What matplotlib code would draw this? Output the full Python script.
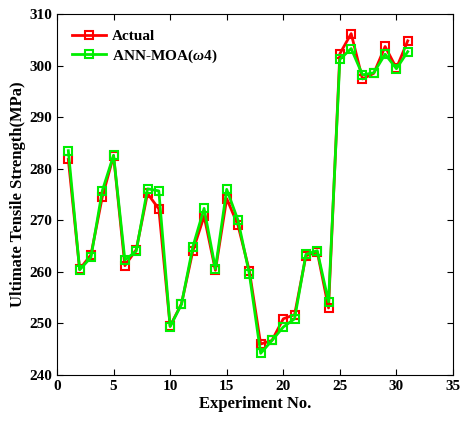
import matplotlib
matplotlib.use("Agg")
import matplotlib.pyplot as plt

experiments = list(range(1, 32))
actual = [281.8, 260.5, 263.3, 274.5, 282.5, 261.2, 264.3, 275.2, 272.2, 249.5,
          253.8, 264.0, 270.8, 260.3, 274.2, 269.0, 260.2, 246.0, 246.7, 250.9,
          251.7, 263.1, 263.9, 253.0, 302.3, 306.2, 297.4, 298.5, 303.7, 299.5, 304.8]
ann_moa = [283.5, 260.4, 262.8, 275.7, 282.6, 262.3, 264.0, 276.1, 275.7, 249.4,
           253.7, 264.8, 272.3, 260.6, 276.0, 270.0, 259.6, 244.2, 246.7, 249.3,
           250.9, 263.4, 264.1, 254.2, 301.2, 303.3, 298.2, 298.6, 302.2, 299.4, 302.7]

plt.rcParams['font.family'] = ['Liberation Serif', 'DejaVu Serif']
plt.rcParams['mathtext.fontset'] = 'custom'
plt.rcParams['mathtext.it'] = 'Liberation Serif:italic:bold'
plt.rcParams['mathtext.rm'] = 'Liberation Serif:bold'

fig = plt.figure(figsize=(4.62, 4.24), dpi=100)
ax = fig.add_axes([57/462, 49/424, 396/462, 361/424])

ax.plot(experiments, actual, color='#ff0000', lw=2, marker='s', ms=6,
        mfc='none', mec='#ff0000', mew=1.5, label='Actual')
ax.plot(experiments, ann_moa, color='#00ee00', lw=2, marker='s', ms=6,
        mfc='none', mec='#00ee00', mew=1.5, label=r'ANN-MOA($\omega$4)')

ax.set_xlim(0, 35)
ax.set_ylim(240, 310)
ax.set_xticks(range(0, 36, 5))
ax.set_yticks(range(240, 311, 10))
ax.tick_params(direction='in', top=True, right=True, labelsize=11, length=4, width=0.8)
for lab in ax.get_xticklabels() + ax.get_yticklabels():
    lab.set_fontweight('bold')
for s in ax.spines.values():
    s.set_linewidth(0.8)

ax.set_xlabel('Experiment No.', fontsize=12, fontweight='bold', labelpad=2)
ax.set_ylabel('Ultimate Tensile Strength(MPa)', fontsize=12, fontweight='bold', labelpad=2)

leg = ax.legend(loc='upper left', frameon=False, prop={'weight': 'bold', 'size': 11},
                handlelength=2.2, borderaxespad=0.6, handletextpad=0.4, labelspacing=0.3)

fig.savefig('out.png', dpi=100)
